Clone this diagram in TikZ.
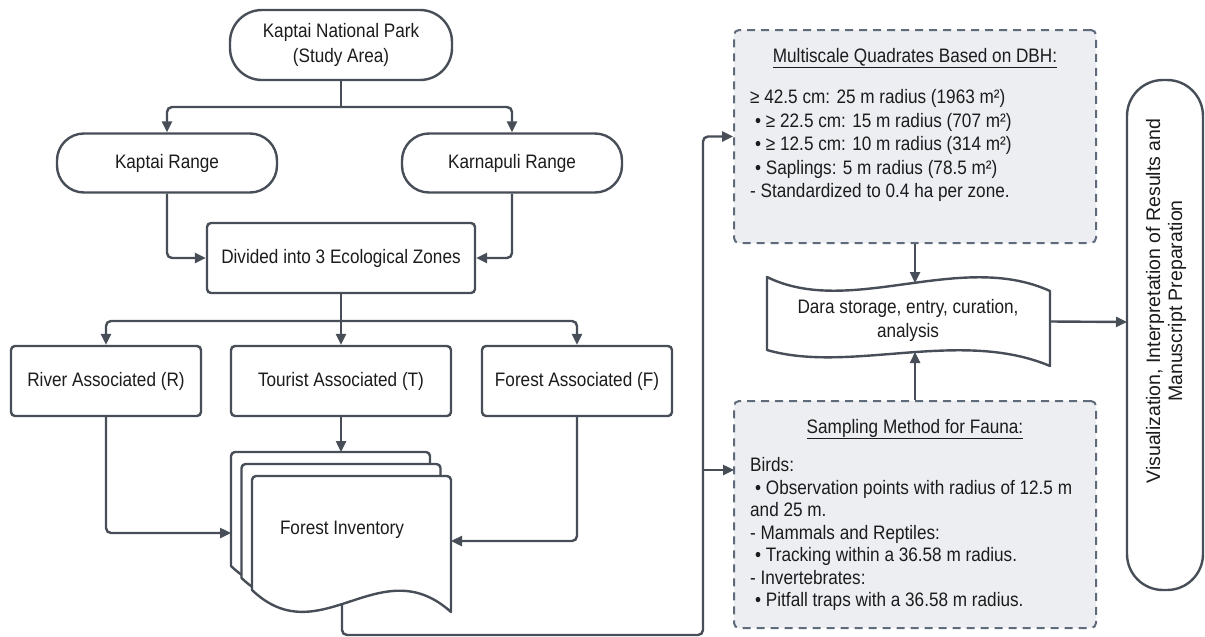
\documentclass[tikz,border=0pt]{standalone}
\usepackage{fontspec}
\setmainfont{Liberation Sans}[FakeStretch=0.88]
\newfontfamily\visfont{Liberation Sans}
\usetikzlibrary{arrows.meta}
\definecolor{ln}{HTML}{474E57}
\definecolor{dsh}{HTML}{5F6B7B}
\definecolor{pale}{HTML}{EDEEF2}
\definecolor{txt}{HTML}{1C1C1C}
\begin{document}
\begin{tikzpicture}[x=1pt,y=-1pt,
  every node/.style={font=\fontsize{19.5}{25}\selectfont, text=txt, inner sep=0pt},
  rbox/.style={draw=ln, line width=2.4pt, rounded corners=4pt, fill=white, align=center, minimum height=70pt},
  pill/.style={draw=ln, line width=2.4pt, fill=white, align=center},
  dbox/.style={draw=dsh, line width=2pt, dash pattern=on 8pt off 6pt, fill=pale, rounded corners=5pt},
  conn/.style={draw=ln, line width=2.4pt, rounded corners=5pt, -{Triangle[length=11pt,width=10pt]}},
  plain/.style={draw=ln, line width=2.4pt, rounded corners=5pt},
  shp/.style={draw=ln, line width=2.4pt, fill=white, line join=round}
]
\useasboundingbox (0,0) rectangle (1205,637);

% ---- left tree ----
\node[pill, minimum width=222pt, minimum height=70pt, rounded corners=32pt] (park) at (341,45) {Kaptai National Park\\(Study Area)};
\node[pill, minimum width=220pt, minimum height=59pt, rounded corners=27pt] (kr) at (167,163) {Kaptai Range};
\node[pill, minimum width=220pt, minimum height=59pt, rounded corners=27pt] (kn) at (512,163) {Karnapuli Range};
\node[rbox, minimum width=268pt] (div) at (341,258) {Divided into 3 Ecological Zones};
\node[rbox, minimum width=190pt] (river) at (106,381) {River Associated (R)};
\node[rbox, minimum width=220pt] (tour) at (341,381) {Tourist Associated (T)};
\node[rbox, minimum width=190pt] (forest) at (577,381) {Forest Associated (F)};

\coordinate (b1) at (341,107);
\coordinate (b2) at (341,321);
\draw[plain] (park.south) -- (b1);
\draw[conn] (b1) -| (kr.north);
\draw[conn] (b1) -| (kn.north);
\draw[conn] (kr.south) |- (div.west);
\draw[conn] (kn.south) |- (div.east);
\draw[plain] (div.south) -- (b2);
\draw[conn] (b2) -| (river.north);
\draw[conn] (b2) -- (tour.north);
\draw[conn] (b2) -| (forest.north);

% ---- stacked documents ----
\foreach \dx/\dy in {-21/-24, -10.5/-12, 0/0}{
  \draw[shp, shift={(\dx,\dy)}] (252,590) [rounded corners=4pt] -- (252,476) -- (451,476) -- (451,560) [sharp corners] -- (451,612)
     .. controls (380,548) and (320,655) .. (252,590) -- cycle;
}
\node (inv) at (342,530) {Forest Inventory};
\coordinate (invtop) at (341,452);
\coordinate (invleft) at (231,533);
\coordinate (invright) at (451,541);
\coordinate (invbot) at (342,604);
\draw[conn] (tour.south) -- (invtop);
\draw[conn] (river.south) |- (invleft);
\draw[conn] (forest.south) |- (invright);

% ---- right column ----
\node[dbox, minimum width=362pt, minimum height=213pt] (mq) at (915,136.5) {};
\node (mqt) at (915,58) {\underline{Multiscale Quadrates Based on DBH:}};
\node[anchor=west, align=left, font=\fontsize{19.5}{23.5}\selectfont] (mqb) at (750,145.5)
  {≥ 42.5 cm: 25 m radius (1963 m²)\\
   \hspace*{5pt}• ≥ 22.5 cm: 15 m radius (707 m²)\\
   \hspace*{5pt}• ≥ 12.5 cm: 10 m radius (314 m²)\\
   \hspace*{5pt}• Saplings: 5 m radius (78.5 m²)\\
   - Standardized to 0.4 ha per zone.};

\node[dbox, minimum width=362pt, minimum height=227pt] (sf) at (915,514.5) {};
\node (sft) at (915,429) {\underline{Sampling Method for Fauna:}};
\node[anchor=west, align=left, font=\fontsize{19.5}{22.5}\selectfont] (sfb) at (750,534)
  {Birds:\\
   \hspace*{5pt}• Observation points with radius of 12.5 m\\
   and 25 m.\\
   - Mammals and Reptiles:\\
   \hspace*{5pt}• Tracking within a 36.58 m radius.\\
   - Invertebrates:\\
   \hspace*{5pt}• Pitfall traps with a 36.58 m radius.};

% data storage (tape shape)
\node[minimum width=283pt, minimum height=89pt] (dara) at (908.5,321.5) {};
\draw[shp] (767,277) .. controls (850,318) and (960,250) .. (1050,291) -- (1050,366)
   .. controls (960,328) and (850,374) .. (767,350) -- cycle;
\node[align=center, font=\fontsize{19.5}{24}\selectfont] (darat) at (908,320) {Dara storage, entry, curation,\\analysis};
\coordinate (daratop) at (915,283);
\coordinate (darabot) at (915,352);
\draw[conn] (mq.south -| daratop) -- (daratop);
\draw[conn] (sf.north -| darabot) -- (darabot);

% visualization pill
\node[pill, minimum width=76pt, minimum height=510pt, rounded corners=36pt] (vis) at (1165,335) {};
\node[rotate=90, align=center, font=\visfont\fontsize{19.5}{22}\selectfont] (vist) at (1166,301)
  {Visualization, Interpretation of Results and\\Manuscript Preparation};
\coordinate (visin) at (1127,322);
\draw[conn] (dara.east) -- (visin);

% bottom connector from documents to the right column
\coordinate (sfin) at (734,470);
\draw[conn] (invbot) -- (342,635) -| (703,136.5) -- (mq.west);
\draw[conn] (703,470) -- (sfin);
\end{tikzpicture}
\end{document}
